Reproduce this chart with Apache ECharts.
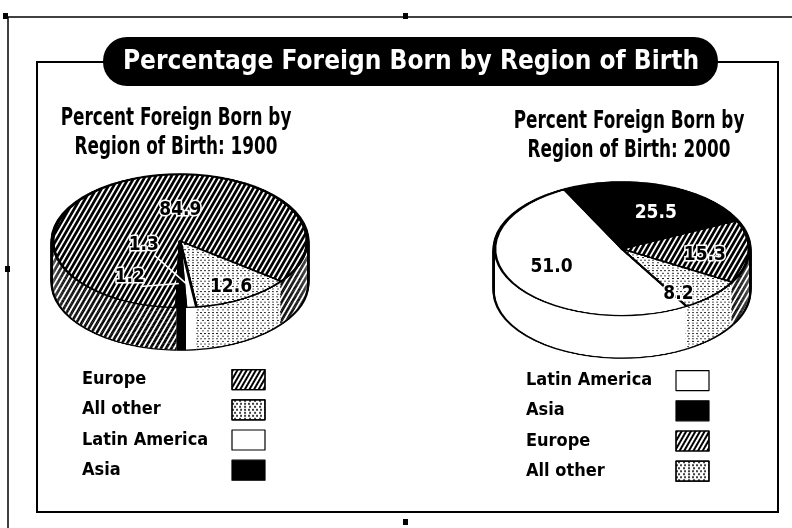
<!DOCTYPE html>
<html>
<head>
<meta charset="utf-8">
<script src="https://cdn.jsdelivr.net/npm/echarts@6/dist/echarts.min.js"></script>
<style>
html, body { margin: 0; padding: 0; background: #fff; }
#wrap { position: relative; width: 792px; height: 528px; overflow: hidden; }
#pies { position: absolute; left: 0; top: 0; width: 792px; transform-origin: 0 0; z-index: 1; }
#main { position: absolute; left: 0; top: 0; width: 792px; height: 528px; z-index: 2; }
</style>
</head>
<body>
<div id="wrap"><div id="pies"></div><div id="main"></div></div>
<script>
// values
const years = ['1900', '2000'];
const regions1900 = ['Europe', 'All other', 'Latin America', 'Asia'];
const values1900 = [84.9, 12.6, 1.3, 1.2];
const regions2000 = ['Latin America', 'Asia', 'Europe', 'All other'];
const values2000 = [51.0, 25.5, 15.3, 8.2];

const mainTitle = 'Percentage Foreign Born by Region of Birth';
const subTitles = ['Percent Foreign Born by\nRegion of Birth: 1900', 'Percent Foreign Born by\nRegion of Birth: 2000'];

// look of the "3d" pies
const TILT = 0.524;          // vertical squash of the pie tops
const RX = 127;              // horizontal radius
const DEPTH = 42;            // thickness in screen px
const LAYERS = 30;
const pieCenters = [[180, 241], [622, 249]];
const startAngles = [268.4, 300.6];
const FONT = '"DejaVu Sans Condensed", "DejaVu Sans", sans-serif';

// label tweaks (px) and which ones get a leader line
const labelNudge = {
    '1900': { 'Europe': [40, 12], 'All other': [5, 4], 'Latin America': [-44, -42], 'Asia': [-51, -11] },
    '2000': { 'Latin America': [10, -5], 'Asia': [4, 10], 'Europe': [-9, 4], 'All other': [-9, 11] }
};
const leaderLabels = { '1900': ['Latin America', 'Asia'], '2000': [] };

function hatch(k) {
    // stripes that end up at ~60deg after squashing by k
    const a = Math.atan(Math.tan(Math.PI / 3) / k);
    const p = 3.4 * Math.sin(a) / Math.sin(Math.PI / 3);
    return { symbol: 'rect', symbolSize: 1, dashArrayX: [1, 0], dashArrayY: [p * 0.55, p * 0.45], rotation: -a, color: '#000' };
}
function dots(k) {
    return { symbol: 'circle', symbolSize: 1, dashArrayX: [[1.4, 1.6], [0, 1.5, 1.4, 0.1]], dashArrayY: [1.4 / k, 0.7 / k], color: '#000' };
}
const fills = {
    'Europe': k => ({ color: '#fff', decal: hatch(k) }),
    'All other': k => ({ color: '#fff', decal: dots(k) }),
    'Latin America': k => ({ color: '#fff' }),
    'Asia': k => ({ color: '#000' })
};

const names = [regions1900, regions2000];
const vals = [values1900, values2000];

// ---- squashed chart with the pie bodies ----
const piesDom = document.getElementById('pies');
piesDom.style.height = (528 / TILT) + 'px';
piesDom.style.transform = 'scaleY(' + TILT + ')';
let pieChart = echarts.init(piesDom);

let bodySeries = [];
for (let p = 0; p < 2; p++) {
    const cx = pieCenters[p][0];
    const cy = pieCenters[p][1] / TILT;
    const depth = DEPTH / TILT;
    // black outline under the whole stack
    for (let i = 0; i <= LAYERS; i++) {
        bodySeries.push({
            type: 'pie', silent: true, animation: false,
            radius: RX + 2.5, center: [cx, cy + depth * (1 - i / LAYERS)],
            startAngle: startAngles[p], clockwise: true,
            label: { show: false }, labelLine: { show: false },
            emphasis: { disabled: true },
            itemStyle: { color: '#000', borderWidth: 0 },
            data: names[p].map((n, j) => ({ name: n, value: vals[p][j] }))
        });
    }
    for (let i = 0; i <= LAYERS; i++) {
        const top = i === LAYERS;
        bodySeries.push({
            type: 'pie', silent: true, animation: false,
            radius: RX, center: [cx, cy + depth * (1 - i / LAYERS)],
            startAngle: startAngles[p], clockwise: true,
            label: { show: false }, labelLine: { show: false },
            emphasis: { disabled: true },
            data: names[p].map((n, j) => ({
                name: n, value: vals[p][j],
                itemStyle: Object.assign(fills[n](TILT), { borderColor: '#000', borderWidth: top ? 2.6 : 0 })
            }))
        });
    }
}
pieChart.setOption({ animation: false, series: bodySeries });

// ---- flat chart: frame, titles, legends, value labels ----
let myChart = echarts.init(document.getElementById('main'));

function labelSeries(p) {
    const year = years[p];
    const cx = pieCenters[p][0], cy = pieCenters[p][1];
    return {
        type: 'pie', silent: true, animation: false,
        radius: RX * 1.4, center: [cx, cy],
        startAngle: startAngles[p], clockwise: true,
        avoidLabelOverlap: false,
        emphasis: { disabled: true },
        itemStyle: { color: 'rgba(0,0,0,0)', borderWidth: 0 },
        label: {
            show: true, position: 'inside',
            formatter: pr => pr.value.toFixed(1),
            fontFamily: FONT, fontWeight: 'bold', fontSize: 19,
            color: '#000', textBorderColor: '#fff', textBorderWidth: 3
        },
        labelLine: { show: false },
        labelLayout: function (params) {
            const name = names[p][params.dataIndex];
            const nudge = labelNudge[year][name] || [0, 0];
            const r = params.labelRect;
            let ax, ay;
            if (params.labelLinePoints && leaderLabels[year].indexOf(name) >= 0) {
                const e = params.labelLinePoints[0];
                ax = cx + (e[0] - cx) * 0.5;
                ay = cy + (e[1] - cy) * 0.5;
            } else {
                ax = r.x + r.width / 2;
                ay = r.y + r.height / 2;
            }
            ay = cy + (ay - cy) * TILT;
            const lx = ax + nudge[0], ly = ay + nudge[1];
            const out = { x: lx, y: ly, align: 'center', verticalAlign: 'middle' };
            if (leaderLabels[year].indexOf(name) >= 0) {
                out.labelLinePoints = [[lx + r.width / 2 - 6, ly + r.height / 2 - 1], [ax - 2, ay - 4]];
            }
            return out;
        },
        data: names[p].map((n, j) => {
            const d = { name: n, value: vals[p][j] };
            if (year === '2000' && n === 'Asia') {
                d.label = { color: '#fff', textBorderWidth: 0 };
            }
            if (leaderLabels[year].indexOf(n) >= 0) {
                d.label = { position: 'outside' };
                d.labelLine = { show: true, length: 5, length2: 5, lineStyle: { color: '#fff', width: 1.5 } };
            }
            return d;
        })
    };
}

function legendFor(p, left, top) {
    const txt = { fontFamily: FONT, fontWeight: 'bold', fontSize: 18, color: '#000', lineHeight: 20 };
    return {
        orient: 'vertical', left: left, top: top, padding: 0,
        align: 'right', icon: 'rect',
        itemWidth: 33, itemHeight: 20, itemGap: 9,
        selectedMode: false,
        formatter: '{n|{name}}',
        textStyle: Object.assign({ rich: { n: Object.assign({ width: 145, align: 'left' }, txt) } }, txt),
        data: names[p].map(n => ({
            name: n,
            itemStyle: Object.assign(fills[n](1), { borderColor: '#000', borderWidth: 1.2 })
        }))
    };
}

function handle(x, y) {
    return { type: 'rect', shape: { x: x, y: y, width: 5, height: 6 }, style: { fill: '#000' } };
}

myChartOption = {
    animation: false,
    legend: [legendFor(0, 82, 369), legendFor(1, 526, 370)],
    graphic: [
        { type: 'line', shape: { x1: 4, y1: 17, x2: 792, y2: 17 }, style: { stroke: '#000', lineWidth: 1.5 } },
        { type: 'line', shape: { x1: 8, y1: 17, x2: 8, y2: 528 }, style: { stroke: '#000', lineWidth: 1.5 } },
        handle(3, 13), handle(403, 13), handle(5, 266), handle(403, 519),
        { type: 'rect', shape: { x: 37, y: 62, width: 741, height: 450 }, style: { fill: null, stroke: '#000', lineWidth: 2 } },
        { type: 'rect', shape: { x: 103, y: 37, width: 615, height: 49, r: 24 }, style: { fill: '#000' } },
        {
            type: 'text', x: 411, y: 62,
            style: { text: mainTitle, fill: '#fff', font: 'bold 26px ' + FONT, align: 'center', verticalAlign: 'middle' }
        },
        {
            type: 'text', x: 176, y: 133, scaleX: 0.78,
            style: { text: subTitles[0], fill: '#000', font: 'bold 24px ' + FONT, lineHeight: 29, align: 'center', verticalAlign: 'middle' }
        },
        {
            type: 'text', x: 629, y: 136, scaleX: 0.78,
            style: { text: subTitles[1], fill: '#000', font: 'bold 24px ' + FONT, lineHeight: 29, align: 'center', verticalAlign: 'middle' }
        }
    ],
    series: [labelSeries(0), labelSeries(1)]
};
myChart.setOption(myChartOption);
</script>
</body>
</html>
